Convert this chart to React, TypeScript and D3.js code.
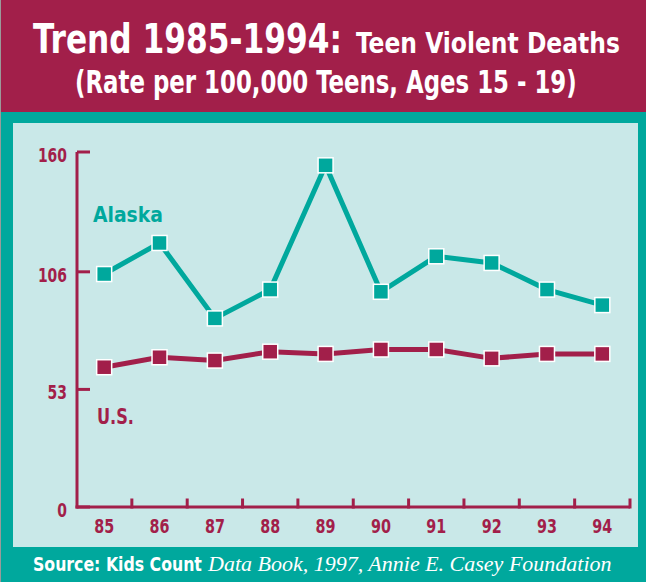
import React, { useLayoutEffect, useRef, useState } from 'react';
import * as d3 from 'd3';

const years = ['85', '86', '87', '88', '89', '90', '91', '92', '93', '94'];
const alaska = [105, 119, 85, 98, 154, 97, 113, 110, 98, 91];
const us = [63, 67.5, 66, 70, 69, 71, 71, 67, 69, 69];
const yTicks = [0, 53, 106, 160];

const MAROON = '#A21F4A';
const TEAL = '#00A89D';
const PANEL = '#C9E8E8';
const SANS = '"Liberation Sans Narrow", "DejaVu Sans Condensed", "Liberation Sans", Roboto, sans-serif';
const SERIF = '"Liberation Serif", "DejaVu Serif", serif';

type FitProps = {
  x: number; y: number; width: number; anchor?: 'start' | 'middle' | 'end';
  fill: string; family: string; size: number; weight?: string; italic?: boolean;
  children: string;
};

function FitText({ x, y, width, anchor = 'start', fill, family, size, weight, italic, children }: FitProps) {
  const ref = useRef<SVGTextElement>(null);
  const [s, setS] = useState(1);
  useLayoutEffect(() => {
    if (ref.current) {
      const len = ref.current.getComputedTextLength();
      if (len > 0) setS(width / len);
    }
  }, [width, children, size, family]);
  return (
    <g transform={`translate(${x},${y}) scale(${s},1)`}>
      <text ref={ref} x={0} y={0} textAnchor={anchor} fill={fill} fontFamily={family}
        fontSize={size} fontWeight={weight} fontStyle={italic ? 'italic' : undefined}>
        {children}
      </text>
    </g>
  );
}

export default function App() {
  const W = 646, H = 582;
  const x = d3.scaleBand<string>().domain(years).range([76.5, 630]);
  const bw = x.bandwidth();
  const cx = (d: string) => (x(d) as number) + bw / 2;
  const y = d3.scaleLinear().domain([0, 160]).range([507, 152]);
  const line = d3.line<number>().x((_, i) => cx(years[i])).y(v => y(v));
  const digitW = 9.7;

  const series = [
    { vals: alaska, color: TEAL },
    { vals: us, color: MAROON },
  ];

  return (
    <svg width={W} height={H} style={{ position: 'absolute', left: 0, top: 0 }}>
      <rect x={0} y={0} width={W} height={H} fill={TEAL} />
      <rect x={0} y={0} width={W} height={112} fill={MAROON} />
      <line x1={0.5} y1={0} x2={0.5} y2={H} stroke="#9a9a9a" strokeWidth={1} />
      <rect x={13} y={123} width={625} height={424} fill={PANEL} />

      {/* Title */}
      <FitText x={33} y={53} width={309} fill="#fff" family={SANS} weight="bold" size={41}>Trend 1985-1994:</FitText>
      <FitText x={356} y={53} width={264} fill="#fff" family={SANS} weight="bold" size={28}>Teen Violent Deaths</FitText>
      <FitText x={75} y={93} width={502} fill="#fff" family={SANS} weight="bold" size={32}>(Rate per 100,000 Teens, Ages 15 - 19)</FitText>

      {/* Axes */}
      <line x1={77} y1={152} x2={77} y2={508.5} stroke={MAROON} strokeWidth={3} />
      <line x1={75.5} y1={507} x2={630} y2={507} stroke={MAROON} strokeWidth={3} />
      {yTicks.map(t => (
        <g key={t}>
          <line x1={77} x2={90} y1={y(t)} y2={y(t)} stroke={MAROON} strokeWidth={3} />
          <FitText x={67} y={y(t) + 10} anchor="end" width={String(t).length * digitW}
            fill={MAROON} family={SANS} weight="bold" size={20}>{String(t)}</FitText>
        </g>
      ))}
      {years.map(d => (
        <g key={d}>
          <line x1={(x(d) as number) + bw} x2={(x(d) as number) + bw} y1={508.5} y2={498.5}
            stroke={MAROON} strokeWidth={3} />
          <FitText x={cx(d)} y={533} anchor="middle" width={d.length * digitW + 0.6}
            fill={MAROON} family={SANS} weight="bold" size={20}>{d}</FitText>
        </g>
      ))}

      {/* Series */}
      {series.map((s, si) => (
        <g key={si}>
          <path d={line(s.vals) || ''} fill="none" stroke={s.color} strokeWidth={5}
            strokeLinejoin="miter" />
          {s.vals.map((v, i) => (
            <rect key={i} x={cx(years[i]) - 7.5} y={y(v) - 7.5} width={15} height={15}
              fill={s.color} stroke="#fff" strokeWidth={1.5} />
          ))}
        </g>
      ))}

      <FitText x={93} y={222} width={70} fill={TEAL} family={SANS} weight="bold" size={21}>Alaska</FitText>
      <FitText x={97} y={424} width={37} fill={MAROON} family={SANS} weight="bold" size={21}>U.S.</FitText>

      {/* Footer */}
      <FitText x={33} y={571} width={169} fill="#fff" family={SANS} weight="bold" size={20}>Source: Kids Count</FitText>
      <FitText x={208} y={571} width={404} fill="#fff" family={SERIF} italic size={20}>Data Book, 1997, Annie E. Casey Foundation</FitText>
    </svg>
  );
}
